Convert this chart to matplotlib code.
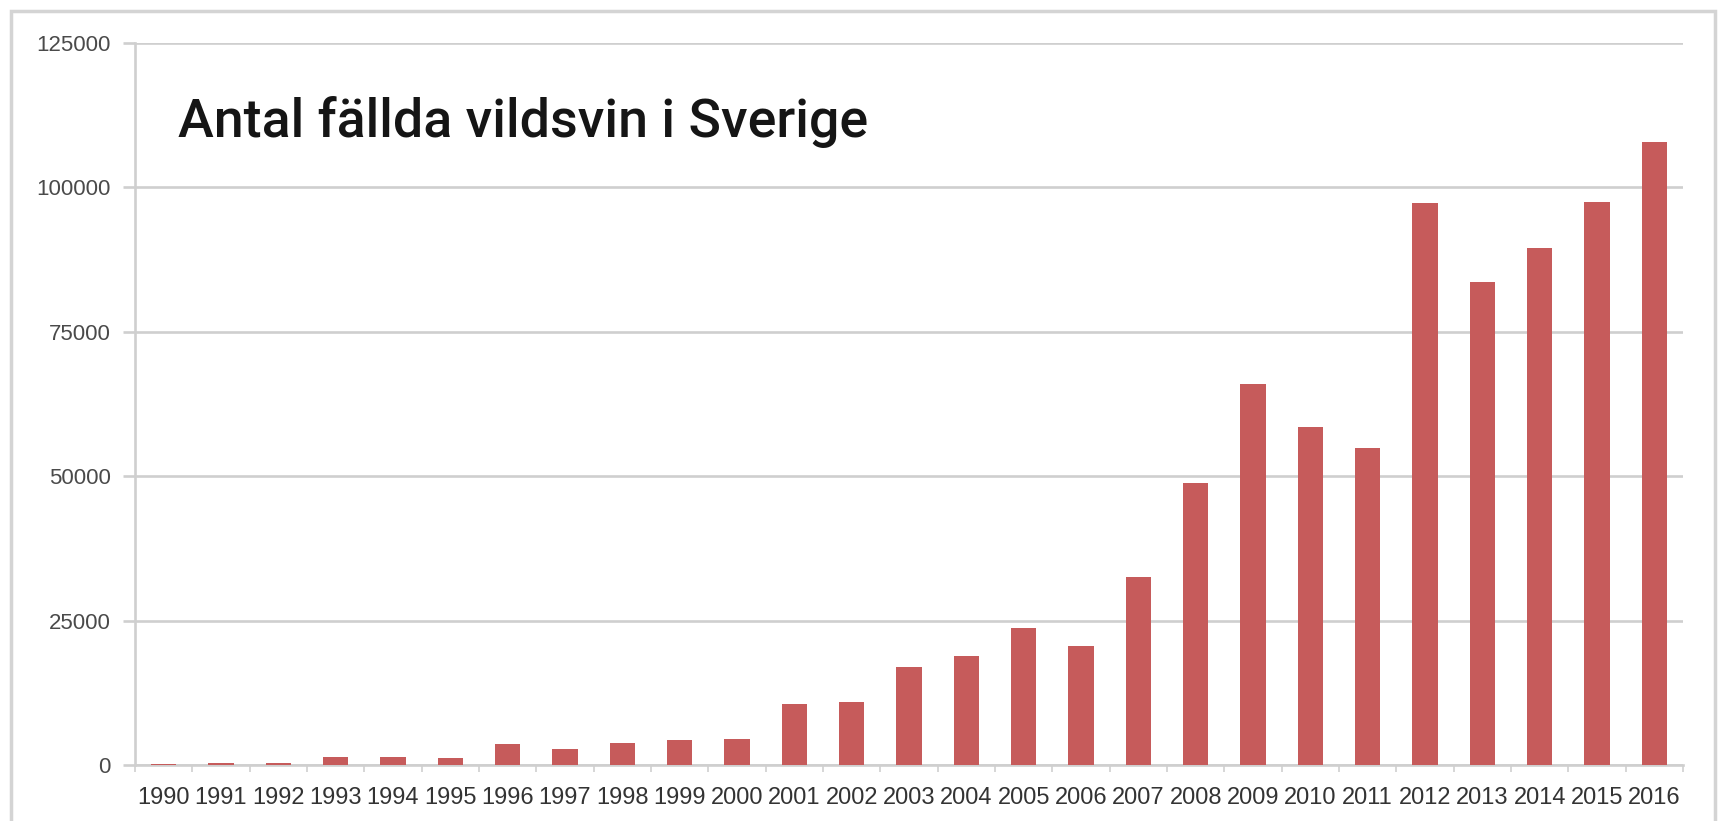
import numpy as np
import matplotlib.pyplot as plt
from matplotlib.patches import Rectangle

# Antal fällda vildsvin per år
years = ["1990", "1991", "1992", "1993", "1994", "1995", "1996", "1997", "1998",
         "1999", "2000", "2001", "2002", "2003", "2004", "2005", "2006", "2007",
         "2008", "2009", "2010", "2011", "2012", "2013", "2014", "2015", "2016"]
values = [100, 300, 300, 1400, 1450, 1150, 3600, 2700, 3800,
          4400, 4550, 10600, 10900, 17050, 18800, 23800, 20600, 32500,
          48800, 66000, 58500, 54900, 97300, 83600, 89500, 97500, 107900]
yticks = [0, 25000, 50000, 75000, 100000, 125000]
title = "Antal fällda vildsvin i Sverige"

W, H = 1721, 821
grid_col = "#cfcfcf"
bar_col = "#c65b5b"

fig = plt.figure(figsize=(W / 100, H / 100), dpi=100)
fig.patch.set_facecolor("white")

# ram runt hela diagrammet
fig.patches.append(Rectangle((11 / W, -0.1), (1715 - 11) / W, 1.1 - 11 / H,
                             transform=fig.transFigure, fill=False,
                             edgecolor="#d4d4d4", linewidth=2.5))

ax = fig.add_axes([135 / W, (H - 765) / H, (1683 - 135) / W, (765 - 43) / H])
x = np.arange(len(years))
ax.bar(x, values, width=0.44, color=bar_col, zorder=3)

ax.set_xlim(-0.5, len(years) - 0.5)
ax.set_ylim(0, 125000)
ax.set_yticks(yticks)
ax.set_yticklabels([str(v) for v in yticks])
ax.set_xticks(x)
ax.set_xticklabels(years)
ax.set_xticks(np.arange(-0.5, len(years), 1.0), minor=True)

ax.grid(axis="y", color=grid_col, linewidth=1.9, zorder=0)
ax.set_axisbelow(True)
for s in ["top", "right"]:
    ax.spines[s].set_visible(False)
for s in ["left", "bottom"]:
    ax.spines[s].set_color(grid_col)
    ax.spines[s].set_linewidth(1.9)

ax.tick_params(axis="y", length=8.5, width=1.9, color=grid_col, pad=9,
               labelsize=16, labelcolor="#4a4a4a")
ax.tick_params(axis="x", which="major", length=0, pad=16,
               labelsize=17, labelcolor="#333333")
ax.tick_params(axis="x", which="minor", length=5, width=1.2, color=grid_col)
for lab in ax.get_xticklabels() + ax.get_yticklabels():
    lab.set_fontfamily("Liberation Sans")

t = fig.text(178 / W, (H - 137) / H, title, fontsize=36, fontweight="medium",
             family="Roboto", color="#151515", va="baseline", ha="left")
fig.canvas.draw()
bb = t.get_window_extent()
t.set_fontsize(36 * 690 / bb.width)

fig.savefig("out.png", dpi=100)
